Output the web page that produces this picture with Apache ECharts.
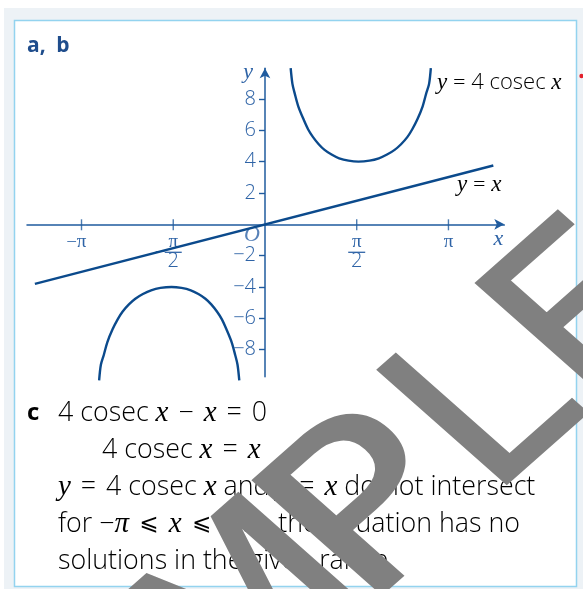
<!DOCTYPE html>
<html>
<head>
<meta charset="utf-8">
<script src="https://cdn.jsdelivr.net/npm/echarts@6/dist/echarts.min.js"></script>
<style>
  html, body { margin: 0; padding: 0; background: #ffffff; }
  #chart { width: 583px; height: 589px; }
</style>
</head>
<body>
<div id="chart"></div>
<script>
// Upper branch of y = 4 cosec x (0 < x < pi)
const upperX = [0.44, 0.47, 0.51, 0.57, 0.66, 0.74, 0.82, 0.92, 1.02, 1.14, 1.27, 1.43, 1.60, 1.79, 1.95, 2.09, 2.22, 2.33, 2.44, 2.52, 2.61, 2.70, 2.76, 2.81, 2.84];
const upperY = [9.96, 8.96, 8.34, 7.53, 6.70, 6.05, 5.58, 5.11, 4.75, 4.45, 4.21, 4.06, 4.00, 4.06, 4.21, 4.45, 4.75, 5.11, 5.58, 6.05, 6.70, 7.53, 8.34, 8.96, 9.96];
// Lower branch of y = 4 cosec x (-pi < x < 0)
const lowerX = [-2.84, -2.81, -2.76, -2.70, -2.61, -2.52, -2.44, -2.33, -2.22, -2.09, -1.95, -1.79, -1.60, -1.43, -1.27, -1.14, -1.02, -0.92, -0.82, -0.74, -0.66, -0.57, -0.51, -0.47, -0.44];
const lowerY = [-9.96, -8.96, -8.34, -7.53, -6.70, -6.05, -5.58, -5.11, -4.75, -4.45, -4.21, -4.06, -4.00, -4.06, -4.21, -4.45, -4.75, -5.11, -5.58, -6.05, -6.70, -7.53, -8.34, -8.96, -9.96];
// Straight line y = x (end points)
const lineX = [-3.94, 3.91];
const lineY = [-3.8, 3.75];

// Axis ticks and their labels
const xTickValues = [-Math.PI, -Math.PI / 2, Math.PI / 2, Math.PI];
const xTickLabels = ['−π', '−π/2', 'π/2', 'π'];
const yTickValues = [-8, -6, -4, -2, 2, 4, 6, 8];
const yTickLabels = ['−8', '−6', '−4', '−2', '2', '4', '6', '8'];

// Axis ranges
const xMin = -4.075, xMax = 4.098;
const yMin = -9.726, yMax = 9.955;

const curveColor = '#0b4a8c';
const axisColor = '#1f5b9e';
const labelColor = '#2e63a6';
const textColor = '#2b5c9e';
const sans = 'Open Sans';
const serif = 'Liberation Serif';

const W = 583, H = 589;
const gridBox = { left: 27, right: 78.7, top: 68.3, bottom: 212.3 };
const gridW = W - gridBox.left - gridBox.right;
const gridH = H - gridBox.top - gridBox.bottom;
// axes cross at the origin: shift them in from the grid edges
const xAxisOffset = -((0 - yMin) / (yMax - yMin)) * gridH;
const yAxisOffset = -((0 - xMin) / (xMax - xMin)) * gridW;

function pairs(xs, ys) { return xs.map((x, i) => [x, ys[i]]); }

function nearestLabel(values, labels, v) {
  let best = 0;
  values.forEach((t, i) => { if (Math.abs(t - v) < Math.abs(values[best] - v)) best = i; });
  return labels[best];
}

// Stacked fraction label, with a leading minus kept outside the fraction
function xLabel(v) {
  const s = nearestLabel(xTickValues, xTickLabels, v);
  const neg = s.startsWith('−');
  const body = neg ? s.slice(1) : s;
  const parts = body.split('/');
  if (parts.length === 2) {
    return '{n|' + parts[0] + '}\n' + (neg ? '{mb|−}{bar|}{spb|}' : '{bar|}') + '\n{d|' + parts[1] + '}';
  }
  return neg ? '{m|−}{n|' + body + '}{sp|}' : '{n|' + body + '}';
}

const bodyRich = {
  t: { fontFamily: sans, fontWeight: 300, fontSize: 26.8, color: textColor },
  o: { fontFamily: sans, fontWeight: 300, fontSize: 26.8, color: textColor, padding: [0, 3] },
  v: { fontFamily: serif, fontStyle: 'italic', fontSize: 29, color: textColor },
  s: { fontFamily: 'DejaVu Sans', fontSize: 23, color: textColor, padding: [0, 3] },
  b: { fontFamily: sans, fontWeight: 'bold', fontSize: 24, color: '#1d4587' }
};
const smallRich = {
  t: { fontFamily: sans, fontWeight: 300, fontSize: 22, color: labelColor },
  v: { fontFamily: serif, fontStyle: 'italic', fontSize: 23, color: labelColor }
};

// Diagonal "SAMPLE" stamp: letters and their places along the slanted baseline
const stampLetters = ['S', 'A', 'M', 'P', 'L', 'E'];
const stampOffsets = [0, 149, 310, 484, 654, 785];
const stampScaleX = [1, 1, 1, 1.15, 1, 1];

const chart = echarts.init(document.getElementById('chart'), null, { renderer: 'canvas' });

chart.setOption({
  backgroundColor: '#ffffff',
  animation: false,
  grid: Object.assign({ containLabel: false, outerBoundsMode: 'none' }, gridBox),
  xAxis: {
    type: 'value',
    min: xMin, max: xMax,
    position: 'bottom',
    offset: xAxisOffset,
    splitLine: { show: false },
    axisLine: { onZero: false, lineStyle: { color: axisColor, width: 1.5 }, symbol: ['none', 'arrow'], symbolSize: [8, 10] },
    axisTick: { show: false },
    axisLabel: {
      customValues: xTickValues,
      margin: 10,
      formatter: xLabel,
      rich: {
        n: { fontFamily: serif, fontSize: 19, lineHeight: 16, color: labelColor },
        d: { fontFamily: sans, fontWeight: 300, fontSize: 20, lineHeight: 15, color: labelColor },
        bar: { width: 17, height: 1.3, lineHeight: 4, backgroundColor: labelColor },
        m: { fontFamily: sans, fontWeight: 300, fontSize: 19, lineHeight: 16, width: 10, align: 'right', color: labelColor },
        mb: { fontFamily: sans, fontWeight: 300, fontSize: 19, lineHeight: 4, width: 9, align: 'right', color: labelColor },
        sp: { width: 10, lineHeight: 16 },
        spb: { width: 9, lineHeight: 4 }
      }
    },
    name: 'x',
    nameLocation: 'end',
    nameGap: -6,
    nameTextStyle: { fontFamily: serif, fontStyle: 'italic', fontSize: 22, color: labelColor, align: 'center', verticalAlign: 'top', padding: [4, 0, 0, 0] }
  },
  yAxis: {
    type: 'value',
    min: yMin, max: yMax,
    position: 'left',
    offset: yAxisOffset,
    splitLine: { show: false },
    axisLine: { onZero: false, lineStyle: { color: axisColor, width: 1.5 }, symbol: ['none', 'arrow'], symbolSize: [8, 10] },
    axisTick: { show: true, customValues: yTickValues, length: 6, lineStyle: { color: axisColor, width: 1.4 } },
    axisLabel: {
      customValues: yTickValues,
      margin: 9,
      fontFamily: sans,
      fontWeight: 300,
      fontSize: 20,
      color: labelColor,
      formatter: (v) => nearestLabel(yTickValues, yTickLabels, v)
    },
    name: 'y',
    nameLocation: 'end',
    nameGap: -4,
    nameTextStyle: { fontFamily: serif, fontStyle: 'italic', fontSize: 22, color: labelColor, align: 'right', verticalAlign: 'middle', padding: [0, 12, 0, 0] }
  },
  series: [
    {
      name: 'y = 4 cosec x (upper)', type: 'line', data: pairs(upperX, upperY), smooth: 0.3,
      showSymbol: false, clip: false, lineStyle: { color: curveColor, width: 2.4 }, z: 3
    },
    {
      name: 'y = 4 cosec x (lower)', type: 'line', data: pairs(lowerX, lowerY), smooth: 0.3,
      showSymbol: false, clip: false, lineStyle: { color: curveColor, width: 2.4 }, z: 3
    },
    {
      name: 'y = x', type: 'line', data: pairs(lineX, lineY),
      showSymbol: false, clip: false, lineStyle: { color: curveColor, width: 2.4 }, z: 3
    },
    {
      // tick marks crossing the x-axis
      name: 'x ticks', type: 'scatter', data: xTickValues.map(v => [v, 0]),
      symbol: 'rect', symbolSize: [1.4, 11], symbolOffset: [0, 0.5],
      itemStyle: { color: axisColor }, silent: true, z: 2
    },
    {
      // origin label
      name: 'origin', type: 'scatter', data: [[0, 0]], symbolSize: 0, silent: true,
      label: { show: true, formatter: 'O', position: 'inside', offset: [-13, 11],
        fontFamily: serif, fontStyle: 'italic', fontSize: 22, color: labelColor }
    }
  ],
  graphic: [
    { type: 'rect', z: -10, shape: { x: 4, y: 8, width: 579, height: 581 }, style: { fill: '#edf2f6' } },
    { type: 'rect', z: -9, shape: { x: 14.5, y: 20.5, width: 562, height: 566 }, style: { fill: '#ffffff', stroke: '#93d3ef', lineWidth: 1.5 } },
    { type: 'circle', z: 50, shape: { cx: 581.5, cy: 76, r: 2.2 }, style: { fill: '#e3202b' } },
    { type: 'text', z: 50, x: 27, y: 46, style: { text: 'a,\u2002b', fontFamily: sans, fontWeight: 'bold', fontSize: 21, fill: '#1f4d8c', verticalAlign: 'middle' } },
    { type: 'text', z: 50, x: 437, y: 83, style: { text: '{v|y}{t| = 4 cosec }{v|x}', verticalAlign: 'middle', rich: smallRich } },
    { type: 'text', z: 50, x: 457, y: 185, style: { text: '{v|y}{t| = }{v|x}', verticalAlign: 'middle', rich: smallRich } },
    { type: 'text', z: 50, x: 27, y: 413, style: { text: '{b|c}', verticalAlign: 'middle', rich: bodyRich } },
    { type: 'text', z: 50, x: 58, y: 413, style: { text: '{t|4 cosec }{v|x}{o| − }{v|x}{o| = }{t|0}', verticalAlign: 'middle', rich: bodyRich } },
    { type: 'text', z: 50, x: 102, y: 450, style: { text: '{t|4 cosec }{v|x}{o| = }{v|x}', verticalAlign: 'middle', rich: bodyRich } },
    { type: 'text', z: 50, x: 58, y: 487.5, style: { text: '{v|y}{o| = }{t|4 cosec }{v|x}{t| and }{v|y}{o| = }{v|x}{t| do not intersect}', verticalAlign: 'middle', rich: bodyRich } },
    { type: 'text', z: 50, x: 58, y: 524.5, style: { text: '{t|for −}{v|π}{s| ⩽ }{v|x}{s| ⩽ }{v|π}{t| so the equation has no}', verticalAlign: 'middle', rich: bodyRich } },
    { type: 'text', z: 50, x: 58, y: 561.5, style: { text: '{t|solutions in the given range.}', verticalAlign: 'middle', rich: bodyRich } },
    {
      // slanted stamp: a 45 degree turn, then an uneven stretch that leans the letters
      type: 'group', z: 100, x: -45.9, y: 891.3, scaleX: 1.059, scaleY: 0.937, silent: true,
      children: [{
        type: 'group', rotation: Math.PI / 4,
        children: stampLetters.map((ch, i) => ({
          type: 'text', z: 100, x: stampOffsets[i], y: 0, scaleX: stampScaleX[i],
          style: { text: ch, fontFamily: 'DejaVu Sans', fontSize: 235, fill: '#808080', stroke: '#808080', lineWidth: 3,
            align: 'left', verticalAlign: 'middle', blend: 'multiply' }
        }))
      }]
    }
  ]
});
</script>
</body>
</html>
